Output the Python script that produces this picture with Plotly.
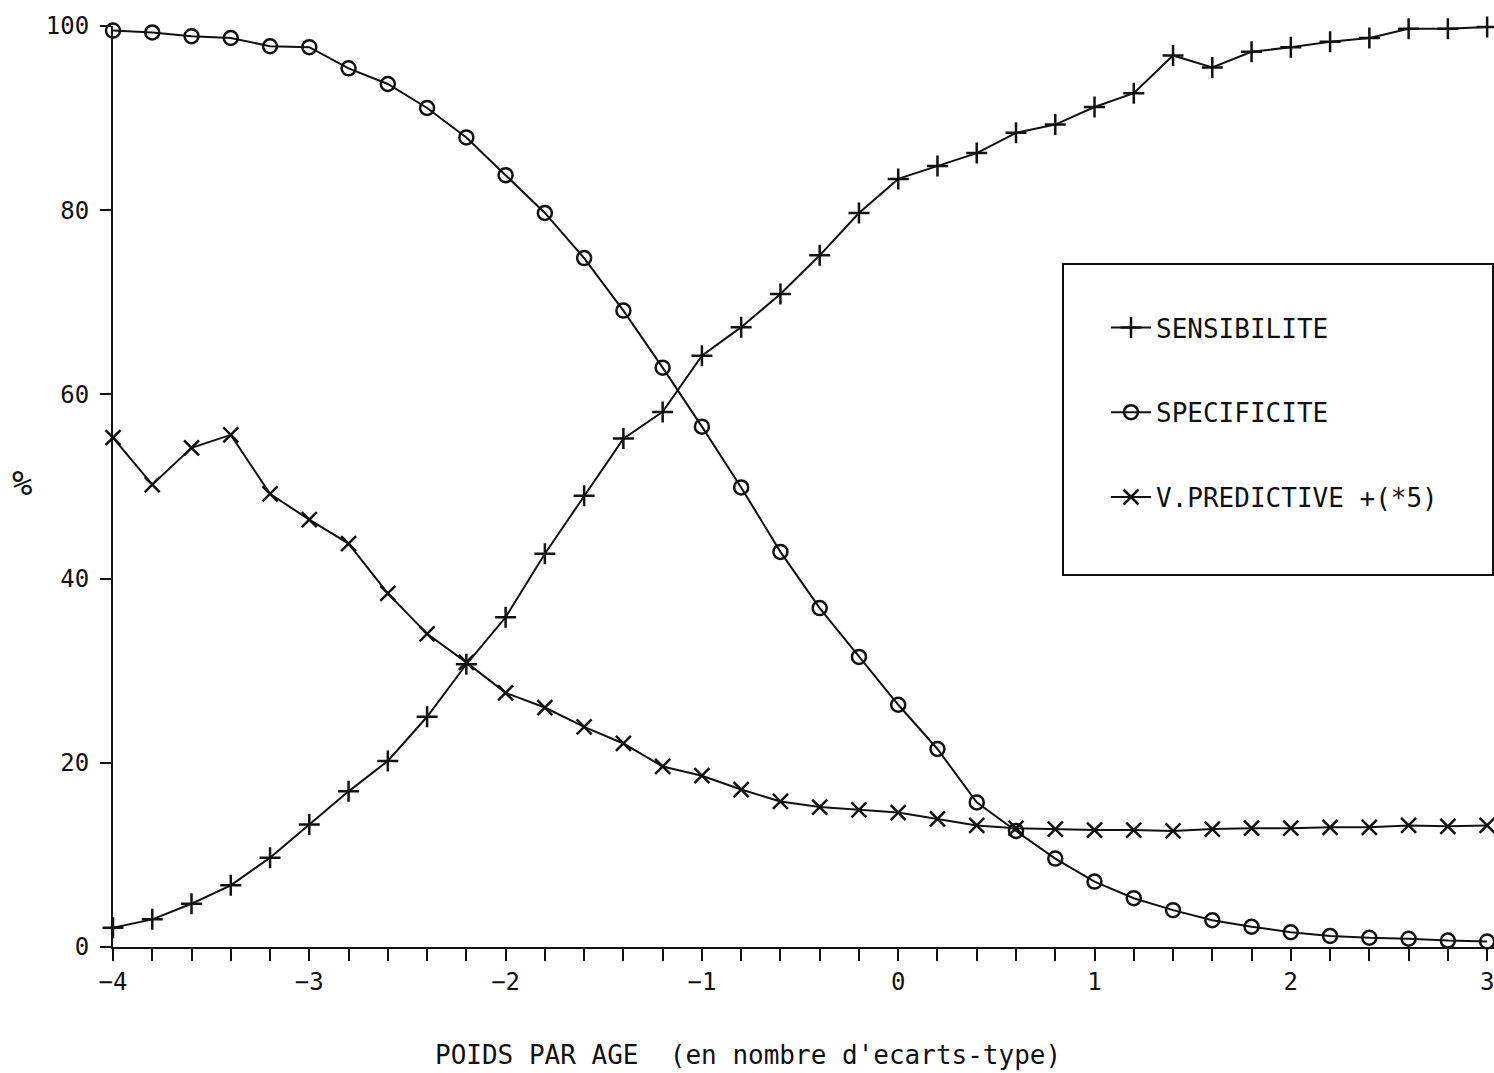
import plotly.graph_objects as go

x_vals = [-4.0, -3.8, -3.6, -3.4, -3.2, -3.0, -2.8, -2.6, -2.4, -2.2,
          -2.0, -1.8, -1.6, -1.4, -1.2, -1.0, -0.8, -0.6, -0.4, -0.2,
          0.0, 0.2, 0.4, 0.6, 0.8, 1.0, 1.2, 1.4, 1.6, 1.8,
          2.0, 2.2, 2.4, 2.6, 2.8, 3.0]

sensibilite = [2.1, 3.0, 4.7, 6.7, 9.7, 13.3, 16.9, 20.2, 25.0, 30.7,
               35.8, 42.7, 49.0, 55.2, 58.1, 64.2, 67.3, 70.9, 75.1, 79.7,
               83.4, 84.8, 86.2, 88.4, 89.3, 91.2, 92.7, 96.8, 95.5, 97.2,
               97.7, 98.3, 98.7, 99.7, 99.7, 99.9]

specificite = [99.5, 99.3, 98.9, 98.7, 97.8, 97.7, 95.4, 93.7, 91.1, 87.9,
               83.8, 79.7, 74.8, 69.1, 62.9, 56.5, 49.9, 42.9, 36.8, 31.5,
               26.3, 21.5, 15.7, 12.6, 9.6, 7.1, 5.3, 4.0, 2.9, 2.2,
               1.6, 1.2, 1.0, 0.9, 0.7, 0.6]

vpred_x5 = [55.3, 50.2, 54.2, 55.6, 49.2, 46.4, 43.8, 38.4, 34.0, 30.9,
            27.6, 26.0, 23.9, 22.1, 19.6, 18.6, 17.1, 15.8, 15.2, 14.9,
            14.6, 13.9, 13.2, 12.9, 12.8, 12.7, 12.7, 12.6, 12.8, 12.9,
            12.9, 13.0, 13.0, 13.2, 13.1, 13.2]

series_names = ["SENSIBILITE", "SPECIFICITE", "V.PREDICTIVE +(*5)"]
x_ticks = [-4, -3, -2, -1, 0, 1, 2, 3]
y_ticks = [0, 20, 40, 60, 80, 100]

FONT = "DejaVu Sans Mono"
BLACK = "#111111"

# plot area in pixels (for placing overlay elements)
L, R, T, B = 113, 1494, 26, 947
PW, PH = R - L, B - T


def px_x(p):
    return (p - L) / PW


def px_y(p):
    return (B - p) / PH


fig = go.Figure()
fig.add_trace(go.Scatter(
    x=x_vals, y=sensibilite, name=series_names[0], mode="lines+markers",
    line=dict(color=BLACK, width=2),
    marker=dict(symbol="cross-thin", size=15, line=dict(color=BLACK, width=2.5), color=BLACK),
    cliponaxis=False, legendgroup="a"))
fig.add_trace(go.Scatter(
    x=x_vals, y=specificite, name=series_names[1], mode="lines+markers",
    line=dict(color=BLACK, width=2),
    marker=dict(symbol="circle-open", size=14, line=dict(color=BLACK, width=2.5), color=BLACK),
    cliponaxis=False, legendgroup="b"))
fig.add_trace(go.Scatter(
    x=x_vals, y=vpred_x5, name=series_names[2], mode="lines+markers",
    line=dict(color=BLACK, width=2),
    marker=dict(symbol="x-thin", size=15, line=dict(color=BLACK, width=2.5), color=BLACK),
    cliponaxis=False, legendgroup="c"))

fig.update_layout(
    width=1494, height=1073,
    margin=dict(l=L, r=1494 - R, t=T, b=1073 - B, autoexpand=False),
    paper_bgcolor="white", plot_bgcolor="white",
    font=dict(family=FONT, color=BLACK, size=24),
    showlegend=True,
    legend=dict(
        xref="paper", yref="paper",
        x=px_x(1106), y=px_y(304), xanchor="left", yanchor="top",
        bgcolor="rgba(0,0,0,0)", borderwidth=0,
        font=dict(family=FONT, size=26, color=BLACK),
        tracegroupgap=48, traceorder="grouped", itemwidth=40,
    ),
    xaxis=dict(
        range=[-4, 3.035], showgrid=False, zeroline=False,
        showline=True, linecolor=BLACK, linewidth=2,
        tickmode="array", tickvals=x_ticks,
        ticktext=[("\u2212" + str(-v)) if v < 0 else str(v) for v in x_ticks],
        ticks="outside", ticklen=12, tickwidth=2, tickcolor=BLACK,
        tickfont=dict(family=FONT, size=24, color=BLACK),
        ticklabeloverflow="allow",
        minor=dict(dtick=0.2, tick0=0, ticks="outside", ticklen=12, tickwidth=2,
                   tickcolor=BLACK, showgrid=False),
    ),
    yaxis=dict(
        range=[0, 100], showgrid=False, zeroline=False,
        showline=True, linecolor=BLACK, linewidth=2,
        tickmode="array", tickvals=y_ticks,
        ticks="outside", ticklen=11, tickwidth=2, tickcolor=BLACK,
        tickfont=dict(family=FONT, size=24, color=BLACK),
        ticklabelstandoff=6, ticklabeloverflow="allow",
    ),
    shapes=[dict(type="rect", xref="paper", yref="paper",
                 x0=px_x(1063), x1=px_x(1493), y0=px_y(575), y1=px_y(264),
                 line=dict(color=BLACK, width=2), fillcolor="rgba(0,0,0,0)")],
    annotations=[
        dict(text="POIDS PAR AGE  (en nombre d'ecarts-type)", xref="paper", yref="paper",
             x=px_x(748), y=px_y(1055), xanchor="center", yanchor="middle",
             showarrow=False, font=dict(family=FONT, size=26, color=BLACK)),
        dict(text="%", xref="paper", yref="paper",
             x=px_x(22), y=px_y(483), xanchor="center", yanchor="middle",
             showarrow=False, font=dict(family=FONT, size=34, color=BLACK)),
    ],
)

fig.write_html("out.html",
               config={"displayModeBar": False},
               post_script="document.body.style.margin='0';document.body.style.overflow='hidden';")
